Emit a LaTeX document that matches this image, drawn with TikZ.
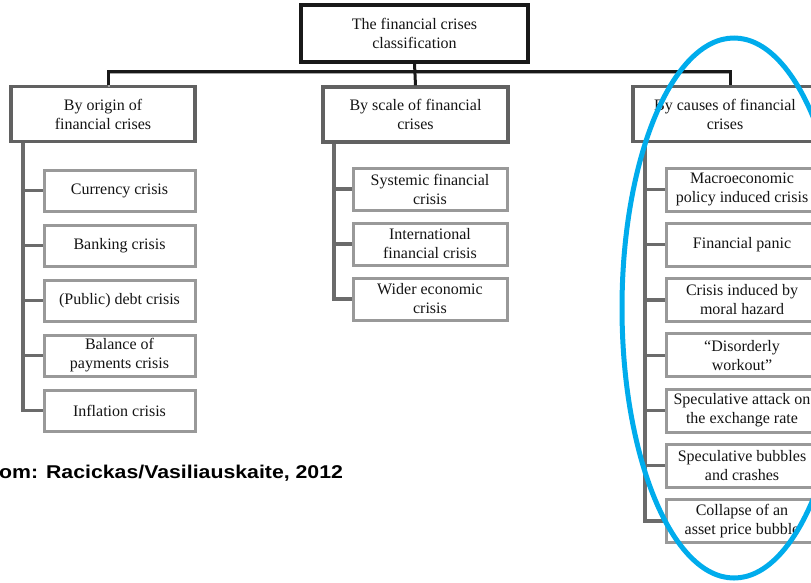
\documentclass[tikz,border=0pt]{standalone}
\usepackage{fontspec}
\setmainfont{Liberation Serif}
\newfontfamily\credfont{Liberation Sans}
\definecolor{ringblue}{RGB}{0,172,236}
\definecolor{boxtext}{RGB}{20,20,20}
\begin{document}
\begin{tikzpicture}[x=1pt,y=-1pt,
  every node/.style={inner sep=0pt, align=center, text=boxtext,
    font=\fontsize{16}{19}\selectfont},
  rootbox/.style={draw=black!90, line width=3.4pt, fill=white,
    minimum width=227pt, minimum height=57pt},
  groupbox/.style={draw=black!62, line width=3.2pt, fill=white,
    minimum width=184pt, minimum height=55pt},
  leafbox/.style={draw=black!40, line width=3pt, fill=white,
    minimum height=41pt},
  bar/.style={draw=black!90, line width=3pt},
  barshade/.style={draw=black!35, line width=2.4pt},
  trunk/.style={draw=black!58, line width=3.4pt}
]
\useasboundingbox (0,0) rectangle (811,582);
\clip (0,0) rectangle (811,582);

% column anchors for the risers and the vertical trunks
\coordinate (rl) at (108,71);
\coordinate (rr) at (730,71);
\coordinate (tl) at (23,0);
\coordinate (tm) at (334,0);
\coordinate (tr) at (645,0);

% top level and the three groups
\node[rootbox] (top) at (414.5,33.5) {The financial crises\\classification};
\node[groupbox] (origin) at (103,114) {By origin of\\financial crises};
\node[groupbox, minimum width=185pt] (scale) at (415.5,114.5) {By scale of financial\\crises};
\node[groupbox] (causes) at (725,114) {By causes of financial\\crises};

% group: by origin
\begin{scope}[every node/.append style={leafbox, minimum width=151pt}]
\node (currency)  at (119.5,190.5) {Currency crisis};
\node (banking)   at (119.5,245.5) {Banking crisis};
\node (public)    at (119.5,300.5) {(Public) debt crisis};
\node (balance)   at (119.5,355.5) {Balance of\\payments crisis};
\node (inflation) at (119.5,410.5) {Inflation crisis};
\end{scope}

% group: by scale
\begin{scope}[every node/.append style={leafbox, minimum width=154pt, minimum height=42pt}]
\node (systemic) at (430,189) {Systemic financial\\crisis};
\node (intl)     at (430,244) {International\\financial crisis};
\node (wider)    at (430,299) {Wider economic\\crisis};
\end{scope}

% group: by causes
\begin{scope}[every node/.append style={leafbox, minimum width=152pt, minimum height=43pt}]
\node (macro)      at (742,189.5)  {Macroeconomic\\policy induced crisis};
\node (panic)      at (742,244.75) {Financial panic};
\node (hazard)     at (742,300)    {Crisis induced by\\moral hazard};
\node (disorderly) at (742,355.25) {“Disorderly\\workout”};
\node (attack)     at (742,410.5)  {Speculative attack on\\the exchange rate};
\node (bubbles)    at (742,465.75) {Speculative bubbles\\and crashes};
\node (collapse)   at (742,521)    {Collapse of an\\asset price bubble};
\end{scope}

% connectors from the root to the groups
\draw[barshade] ([shift={(1,2)}]origin.north -| rl) |- ([shift={(1,2)}]rr);
\draw[bar] (origin.north -| rl) |- (rr) -- (causes.north -| rr);
\draw[bar] (top.south) -- (scale.north);

% trunks with their branches
\draw[trunk] (origin.south -| tl) |- (inflation.west);
\foreach \n in {currency,banking,public,balance}
  \draw[trunk] (tl |- \n.west) -- (\n.west);

\draw[trunk] (scale.south -| tm) |- (wider.west);
\foreach \n in {systemic,intl}
  \draw[trunk] (tm |- \n.west) -- (\n.west);

\draw[trunk] (causes.south -| tr) |- (collapse.west);
\foreach \n in {macro,panic,hazard,disorderly,attack,bubbles}
  \draw[trunk] (tr |- \n.west) -- (\n.west);

% source line
\node[anchor=base west, text=black, xscale=1.15,
  font=\credfont\bfseries\fontsize{18.5}{20}\selectfont]
  (source) at (-1,478) {om: Racickas/Vasiliauskaite, 2012};

% highlight ring round the causes group
\draw[ringblue, line width=5pt] (734,308) ellipse [x radius=112pt, y radius=270pt];
\end{tikzpicture}
\end{document}
